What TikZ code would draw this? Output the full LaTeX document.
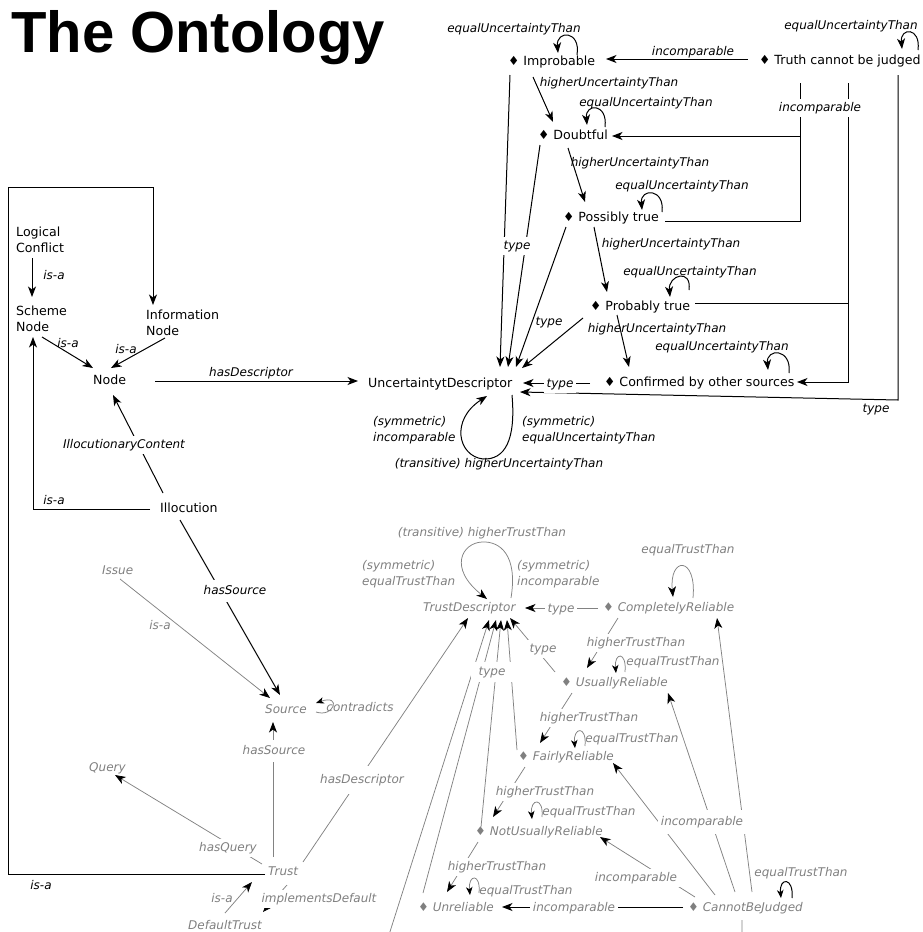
\documentclass[tikz,border=0pt]{standalone}
\usepackage{fontspec}
\setmainfont{DejaVu Sans}
\newfontfamily\titlefont{Liberation Sans}
\usetikzlibrary{arrows.meta,calc}
\definecolor{tgray}{RGB}{128,128,128}
\definecolor{lgray}{RGB}{130,130,130}
\newcommand\dm{{\upshape ♦}\ }
\tikzset{
 bn/.style={anchor=west, inner sep=0pt, font=\fontsize{12.6}{16}\selectfont, text height=9.5pt, text depth=3pt},
 bm/.style={anchor=west, inner sep=0pt, align=left, font=\fontsize{12.6}{16}\selectfont},
 gn/.style={anchor=west, inner sep=0pt, font=\fontsize{12}{15}\selectfont\itshape, text=tgray, text height=9pt, text depth=2.8pt},
 lb/.style={inner sep=0pt, font=\fontsize{12}{15}\selectfont\itshape, text height=9pt, text depth=2.8pt},
 glb/.style={lb, text=tgray},
 lbm/.style={anchor=west, inner sep=0pt, align=left, font=\fontsize{12}{16.5}\selectfont\itshape},
 glbm/.style={anchor=west, inner sep=0pt, align=left, font=\fontsize{12}{15.5}\selectfont\itshape, text=tgray},
 whitebg/.style={fill=white, inner xsep=3pt, inner ysep=3pt},
 bl/.style={line width=1pt, black},
 gl/.style={line width=0.75pt, lgray},
 arr/.style={-{Stealth[length=10.5pt,width=8pt,inset=3pt,color=black]}},
 sarr/.style={-{Stealth[length=8pt,width=6.5pt,inset=2.3pt,color=black]}},
}
\begin{document}
\begin{tikzpicture}[x=1pt,y=-1pt]
\useasboundingbox (0,0) rectangle (922,932);
\clip (0,0) rectangle (922,932);
\node[anchor=base west, inner sep=0pt, font=\titlefont\bfseries\fontsize{58}{64}\selectfont] (title) at (11,52) {The Ontology};

% black nodes
\node[bn] (imp) at (508,62) {\dm Improbable};
\node[bn] (tcj) at (759,61) {\dm Truth cannot be judged};
\node[bn] (doubt) at (538,136) {\dm Doubtful};
\node[bn] (poss) at (563,218) {\dm Possibly true};
\node[bn] (prob) at (590,307) {\dm Probably true};
\node[bn] (conf) at (604,383) {\dm Confirmed by other sources};
\node[bn] (ud) at (368,384) {UncertaintytDescriptor};
\node[bn] (nd) at (93,381) {Node};
\node[bn] (illoc) at (160,509) {Illocution};
\node[bm] (lc) at (16,240) {Logical\\Conflict};
\node[bm] (sn) at (16,319) {Scheme\\Node};
\node[bm] (inn) at (146,323) {Information\\Node};

% gray nodes
\node[gn] (issue) at (102,571) {Issue};
\node[gn] (source) at (265,710) {Source};
\node[gn] (query) at (89,768) {Query};
\node[gn] (trust) at (268,872) {Trust};
\node[gn] (dtrust) at (188,926) {DefaultTrust};
\node[gn] (td) at (423,608) {TrustDescriptor};
\node[gn] (cr) at (603,608) {\dm CompletelyReliable};
\node[gn] (ur) at (561,683) {\dm UsuallyReliable};
\node[gn] (fr) at (518,757) {\dm FairlyReliable};
\node[gn] (nur) at (475,832) {\dm NotUsuallyReliable};
\node[gn] (unr) at (418,908) {\dm Unreliable};
\node[gn] (cbj) at (688,908) {\dm CannotBeJudged};

% top edges
\draw[bl,arr] ($(tcj.west)+(-11,-2)$) -- ($(imp.west)+(98,-3)$);
\draw[bl,arr] ($(imp.west)+(69,-7)$) .. controls +(4,-25) and +(-2,-23) .. ($(imp.west)+(50,-9)$);
\draw[bl,arr] ($(tcj.west)+(159,-11)$) .. controls +(3,-23) and +(-2,-22) .. ($(tcj.west)+(143,-12)$);
\draw[bl,arr] ($(imp.west)+(25,15)$) -- ($(doubt.west)+(15,-14)$);
\draw[bl,arr] ($(doubt.west)+(67,-9)$) .. controls +(3,-24) and +(-2,-22) .. ($(doubt.west)+(49,-11)$);
\draw[bl,arr] ($(doubt.west)+(30,12)$) -- ($(poss.west)+(22,-16)$);
\draw[bl,arr] ($(poss.west)+(99,-6)$) .. controls +(3,-24) and +(-2,-22) .. ($(poss.west)+(79,-8)$);
\draw[bl,arr] ($(poss.west)+(31,9)$) -- ($(prob.west)+(17,-15)$);
\draw[bl,arr] ($(prob.west)+(99,-17)$) .. controls +(3,-22) and +(-2,-22) .. ($(prob.west)+(80,-10)$);
\draw[bl,arr] ($(prob.west)+(27,8)$) -- ($(conf.west)+(25,-16)$);
\draw[bl,arr] ($(conf.west)+(185,-10)$) .. controls +(3,-25) and +(-2,-22) .. ($(conf.west)+(164,-13)$);
\draw[bl,arr] ($(conf.west)+(-14,0)$) -- ($(ud.west)+(155,-1)$);
\draw[bl,arr] ($(tcj.west)+(41,22)$) |- ($(doubt.west)+(74,0)$);
\draw[bl] ($(tcj.west)+(41,22)$) |- ($(poss.west)+(102,3)$);
\draw[bl] ($(tcj.west)+(89,22)$) |- ($(prob.west)+(105,-4)$);
\draw[bl,arr] ($(tcj.west)+(89,22)$) |- ($(conf.west)+(193,-1)$);
\draw[bl,arr] ($(tcj.west)+(139,14)$) -- ($(tcj.west)+(139,339)$) -- ($(ud.west)+(152,8)$);
\draw[bl,arr] ($(imp.west)+(2,13)$) -- ($(ud.west)+(132,-17)$);
\draw[bl,arr] ($(doubt.west)+(2,9)$) -- ($(ud.west)+(140,-17)$);
\draw[bl,arr] ($(poss.west)+(3,9)$) -- ($(ud.west)+(148,-17)$);
\draw[bl,arr] ($(prob.west)+(-7,11)$) -- ($(ud.west)+(154,-16)$);
\draw[bl,arr] ($(ud.west)+(144,11)$) .. controls +(4,45) and +(22,1) .. ($(ud.west)+(115,75)$) .. controls +(-25,-3) and +(-37,24) .. ($(ud.west)+(119,12)$);

% left edges
\draw[bl,arr] ($(nd.west)+(62,0)$) -- ($(ud.west)+(-10,-3)$);
\draw[bl,arr] ($(lc.west)+(16,18)$) -- ($(sn.west)+(16,-22)$);
\draw[bl,arr] ($(sn.west)+(26,18)$) -- ($(nd.west)+(0,-13)$);
\draw[bl,arr] ($(inn.west)+(19,15)$) -- ($(nd.west)+(18,-13)$);
\draw[bl,arr] ($(illoc.west)+(3,-16)$) -- ($(nd.west)+(20,14)$);
\draw[bl,arr] ($(illoc.west)+(-10,0)$) -| ($(sn.west)+(17,18)$);
\coordinate (corner) at (8,187);
\draw[bl,arr] ($(trust.west)+(-3,2)$) -| (corner) -| ($(inn.west)+(7,-18)$);
\draw[bl,arr] ($(illoc.west)+(20,11)$) -- ($(source.west)+(15,-15)$);

% gray edges
\draw[gl,arr] ($(issue.west)+(18,8)$) -- ($(source.west)+(5,-12)$);
\draw[gl,sarr] ($(source.west)+(51,2)$) .. controls +(18,6) and +(26,-9) .. ($(source.west)+(51,-7)$);
\draw[gl,arr] ($(trust.west)+(5,-15)$) -- ($(source.west)+(8,12)$);
\draw[gl,arr] ($(trust.west)+(-6,-8)$) -- ($(query.west)+(26,7)$);
\draw[gl,arr] ($(trust.west)+(35,-10)$) -- ($(td.west)+(45,10)$);
\draw[gl,arr] ($(dtrust.west)+(37,-13)$) -- ($(trust.west)+(-16,10)$);
\draw[gl,arr] ($(trust.west)+(19,13)$) -- ($(dtrust.west)+(75,-14)$);
\draw[gl,arr] ($(td.west)+(88,-10)$) .. controls +(7,-43) and +(18,-1) .. ($(td.west)+(59,-66)$) .. controls +(-20,1) and +(-39,-31) .. ($(td.west)+(64,-9)$);
\draw[gl,arr] ($(cr.west)+(-5,0)$) -- ($(td.west)+(102,0)$);
\draw[gl,arr] ($(cr.west)+(90,-10)$) .. controls +(4,-42) and +(-4,-41) .. ($(cr.west)+(70,-11)$);
\draw[gl,arr] ($(cr.west)+(15,10)$) -- ($(ur.west)+(26,-15)$);
\draw[gl,sarr] ($(ur.west)+(64,-11)$) .. controls +(2,-21) and +(-2,-21) .. ($(ur.west)+(55,-10)$);
\draw[gl,arr] ($(ur.west)+(-6,-11)$) -- ($(td.west)+(87,10)$);
\draw[gl,arr] ($(ur.west)+(11,10)$) -- ($(fr.west)+(22,-14)$);
\draw[gl,sarr] ($(fr.west)+(67,-11)$) .. controls +(2,-21) and +(-2,-21) .. ($(fr.west)+(57,-9)$);
\draw[gl,arr] ($(fr.west)+(-1,-7)$) -- ($(td.west)+(84,12)$);
\draw[gl,arr] ($(fr.west)+(7,10)$) -- ($(nur.west)+(18,-15)$);
\draw[gl,sarr] ($(nur.west)+(67,-15)$) .. controls +(2,-20) and +(-2,-21) .. ($(nur.west)+(57,-13)$);
\draw[gl,arr] ($(nur.west)+(6,-5)$) -- ($(td.west)+(78,12)$);
\draw[gl,arr] ($(nur.west)+(3,10)$) -- ($(unr.west)+(29,-16)$);
\draw[gl,sarr] ($(unr.west)+(61,-15)$) .. controls +(2,-20) and +(-2,-21) .. ($(unr.west)+(52,-13)$);
\draw[gl,arr] ($(unr.west)+(5,-15)$) -- ($(td.west)+(73,12)$);
\draw[gl,arr] ($(cbj.west)+(54,12)$) |- ($(cbj.west)+(-307,52)$) -- ($(td.west)+(66,12)$);
\draw[bl,arr] ($(cbj.west)+(-5,-1)$) -- ($(unr.west)+(84,-1)$);
\draw[gl,arr] ($(cbj.west)+(7,-11)$) -- ($(nur.west)+(125,5)$);
\draw[gl,arr] ($(cbj.west)+(27,-13)$) -- ($(fr.west)+(95,6)$);
\draw[gl,arr] ($(cbj.west)+(47,-16)$) -- ($(ur.west)+(107,10)$);
\draw[gl,arr] ($(cbj.west)+(64,-16)$) -- ($(cr.west)+(114,10)$);
\draw[bl,sarr] ($(cbj.west)+(104,-10)$) .. controls +(2,-21) and +(-2,-21) .. ($(cbj.west)+(93,-10)$);

% top labels
\node[lb] (l1) at (514,29) {equalUncertaintyThan};
\node[lb] (l2) at (693,52) {incomparable};
\node[lb] (l3) at (851,26) {equalUncertaintyThan};
\node[lb] (l4) at (609,83) {higherUncertaintyThan};
\node[lb] (l5) at (646,103) {equalUncertaintyThan};
\node[lb,whitebg] (l6) at (820,108) {incomparable};
\node[lb] (l7) at (640,163) {higherUncertaintyThan};
\node[lb] (l8) at (682,186) {equalUncertaintyThan};
\node[lb] (l9) at (671,244) {higherUncertaintyThan};
\node[lb] (l10) at (690,272) {equalUncertaintyThan};
\node[lb] (l11) at (657,329) {higherUncertaintyThan};
\node[lb] (l12) at (722,347) {equalUncertaintyThan};
\node[lb,whitebg] (l13) at (517,246) {type};
\node[lb] (l14) at (549,322) {type};
\node[lb,whitebg] (l15) at (560,384) {type};
\node[lb] (l16) at (876,409) {type};
\node[lbm] (l17a) at (373,430) {(symmetric)\\incomparable};
\node[lbm] (l17b) at (522,430) {(symmetric)\\equalUncertaintyThan};
\node[lb] (l17c) at (499,464) {(transitive) higherUncertaintyThan};

% left labels
\node[lb] (l18) at (54,276) {is-a};
\node[lb] (l19) at (68,344) {is-a};
\node[lb] (l20) at (126,350) {is-a};
\node[lb] (l21) at (251,373) {hasDescriptor};
\node[lb,whitebg] (l22) at (124,445) {IllocutionaryContent};
\node[lb] (l23) at (54,501) {is-a};
\node[lb] (l24) at (41,886) {is-a};
\node[lb,whitebg,inner ysep=5pt] (l25) at (235,591) {hasSource};

% gray labels
\node[glb] (l26) at (160,626) {is-a};
\node[glb] (l27) at (360,708) {contradicts};
\node[glb,whitebg,inner ysep=5pt] (l28) at (274,751) {hasSource};
\node[glb,whitebg] (l29) at (228,848) {hasQuery};
\node[glb,whitebg,inner ysep=8pt] (l30) at (362,780) {hasDescriptor};
\node[glb] (l31) at (222,899) {is-a};
\node[glb,whitebg] (l32) at (319,899) {implementsDefault};
\node[glbm] (l33a) at (362,574) {(symmetric)\\equalTrustThan};
\node[glbm] (l33b) at (517,574) {(symmetric)\\incomparable};
\node[glb] (l33c) at (482,533) {(transitive) higherTrustThan};
\node[glb,whitebg] (l34) at (561,609) {type};
\node[glb] (l35) at (688,550) {equalTrustThan};
\node[glb,whitebg] (l36) at (636,643) {higherTrustThan};
\node[glb] (l37) at (673,662) {equalTrustThan};
\node[glb,whitebg] (l38) at (543,649) {type};
\node[glb,whitebg] (l39) at (589,718) {higherTrustThan};
\node[glb] (l40) at (632,739) {equalTrustThan};
\node[glb,whitebg,inner xsep=8pt,inner ysep=4pt] (l41) at (492,672) {type};
\node[glb,whitebg] (l42) at (545,792) {higherTrustThan};
\node[glb] (l43) at (589,812) {equalTrustThan};
\node[glb,whitebg] (l44) at (497,867) {higherTrustThan};
\node[glb] (l45) at (526,891) {equalTrustThan};
\node[glb,whitebg] (l46) at (574,908) {incomparable};
\node[glb,whitebg] (l47) at (636,878) {incomparable};
\node[glb,whitebg,inner ysep=6pt] (l48) at (702,822) {incomparable};
\node[glb] (l49) at (801,873) {equalTrustThan};
\end{tikzpicture}
\end{document}
